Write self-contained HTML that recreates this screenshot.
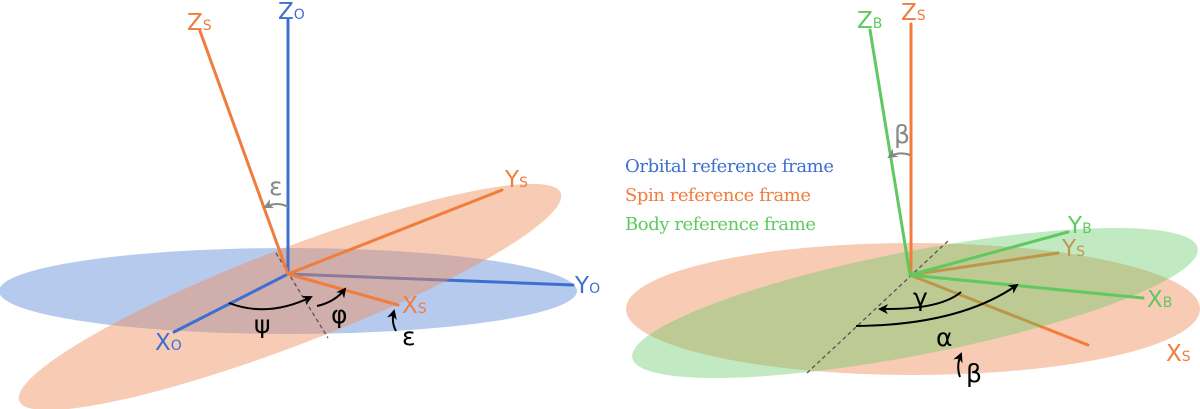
<!DOCTYPE html>
<html><head><style>html,body{margin:0;background:#fff;overflow:hidden;width:1200px;height:409px}svg{display:block}</style></head><body>
<svg width="1200" height="409" viewBox="0 0 1200 409" xmlns="http://www.w3.org/2000/svg" font-family="'DejaVu Sans','Liberation Sans',sans-serif">
<defs>
<marker id="ab" viewBox="0 0 10 10" refX="8" refY="5" markerWidth="5" markerHeight="5" orient="auto"><path d="M0,0 L10,5 L0,10 L3,5z" fill="#000"/></marker>
<marker id="ag" viewBox="0 0 10 10" refX="8" refY="5" markerWidth="5" markerHeight="5" orient="auto"><path d="M0,0 L10,5 L0,10 L3,5z" fill="#888"/></marker>
</defs>
<!-- LEFT -->
<ellipse cx="288" cy="291" rx="289" ry="43" fill="#6d95dc" fill-opacity="0.5"/>
<line x1="288" y1="274" x2="573" y2="285" stroke="#3d6fd1" stroke-width="3" stroke-linecap="round"/>
<ellipse cx="290" cy="297" rx="290" ry="48" transform="rotate(-21 290 297)" fill="#f08c5a" fill-opacity="0.45"/>
<line x1="276" y1="253" x2="328" y2="338" stroke="#555" stroke-width="1.3" stroke-dasharray="4,3"/>
<g stroke-width="3" stroke-linecap="round">
<line x1="288" y1="20" x2="288" y2="274" stroke="#3d6fd1"/>
<line x1="288" y1="274" x2="174" y2="332" stroke="#3d6fd1"/>
<line x1="200" y1="31" x2="288" y2="274" stroke="#f07d3c"/>
<line x1="288" y1="274" x2="502" y2="190" stroke="#f07d3c"/>
<line x1="288" y1="274" x2="398" y2="305" stroke="#f07d3c"/>
</g>
<g fill="none" stroke-width="2">
<path d="M229,303 Q268,318 311,297" stroke="#000" marker-end="url(#ab)"/>
<path d="M317,306 Q335,302 345,289" stroke="#000" marker-end="url(#ab)"/>
<path d="M396,331 Q391,322 394,311" stroke="#000" marker-end="url(#ab)"/>
<path d="M288,207 Q278,201 265,207" stroke="#888" marker-end="url(#ag)"/>
</g>
<g font-size="23">
<text x="187" y="30" fill="#f07d3c">Z<tspan font-size="14">S</tspan></text>
<text x="278" y="19" fill="#3d6fd1">Z<tspan font-size="14">O</tspan></text>
<text x="505" y="187" fill="#f07d3c">Y<tspan font-size="14">S</tspan></text>
<text x="575" y="293" fill="#3d6fd1">Y<tspan font-size="14">O</tspan></text>
<text x="402" y="313" fill="#f07d3c">X<tspan font-size="14">S</tspan></text>
<text x="155" y="350" fill="#3d6fd1">X<tspan font-size="14">O</tspan></text>
<text x="254" y="333" font-size="25" fill="#000">ψ</text>
<text x="331" y="323" font-size="25" fill="#000">φ</text>
<text x="402" y="345" font-size="25" fill="#000">ε</text>
<text x="269" y="195" font-size="25" fill="#888">ε</text>
</g>
<!-- RIGHT -->
<g font-family="'DejaVu Serif','Liberation Serif',serif" font-size="18">
<text x="625" y="172" fill="#3d6fd1" textLength="209">Orbital reference frame</text>
<text x="625" y="201" fill="#f07d3c" textLength="186">Spin reference frame</text>
<text x="625" y="230" fill="#5ec95e" textLength="191">Body reference frame</text>
</g>
<ellipse cx="913" cy="309" rx="287" ry="66" fill="#f08c5a" fill-opacity="0.45"/>
<g stroke-width="3" stroke-linecap="round">
<line x1="910" y1="275" x2="1088" y2="345" stroke="#f07d3c"/>
<line x1="910" y1="275" x2="1058" y2="253" stroke="#f07d3c"/>
</g>
<ellipse cx="915" cy="303" rx="288" ry="52" transform="rotate(-11 915 303)" fill="#5ec95e" fill-opacity="0.38"/>
<line x1="807" y1="373" x2="949" y2="240" stroke="#555" stroke-width="1.3" stroke-dasharray="4,3"/>
<g stroke-width="3" stroke-linecap="round">
<line x1="911" y1="24" x2="911" y2="275" stroke="#f07d3c"/>
<line x1="870" y1="30" x2="910" y2="275" stroke="#5ec95e"/>
<line x1="910" y1="275" x2="1068" y2="232" stroke="#5ec95e"/>
<line x1="910" y1="275" x2="1143" y2="298" stroke="#5ec95e"/>
</g>
<g fill="none" stroke-width="2">
<path d="M961,292 Q940,310 880,309" stroke="#000" marker-end="url(#ab)"/>
<path d="M856,326 Q960,325 1017,285" stroke="#000" marker-end="url(#ab)"/>
<path d="M960,377 Q956,366 961,354" stroke="#000" marker-end="url(#ab)"/>
<path d="M910,155 Q898,151 889,157" stroke="#888" marker-end="url(#ag)"/>
</g>
<g font-size="23">
<text x="857" y="28" fill="#5ec95e">Z<tspan font-size="14">B</tspan></text>
<text x="901" y="20" fill="#f07d3c">Z<tspan font-size="14">S</tspan></text>
<text x="1068" y="233" fill="#5ec95e">Y<tspan font-size="14">B</tspan></text>
<text x="1062" y="256" fill="#c0974e">Y<tspan font-size="14">S</tspan></text>
<text x="1147" y="307" fill="#5ec95e">X<tspan font-size="14">B</tspan></text>
<text x="1166" y="361" fill="#f07d3c">X<tspan font-size="14">S</tspan></text>
<text x="913" y="306" font-size="25" fill="#000">γ</text>
<text x="936" y="346" font-size="25" fill="#000">α</text>
<text x="966" y="382" font-size="25" fill="#000">β</text>
<text x="894" y="143" font-size="25" fill="#888">β</text>
</g>
</svg>
</body></html>
